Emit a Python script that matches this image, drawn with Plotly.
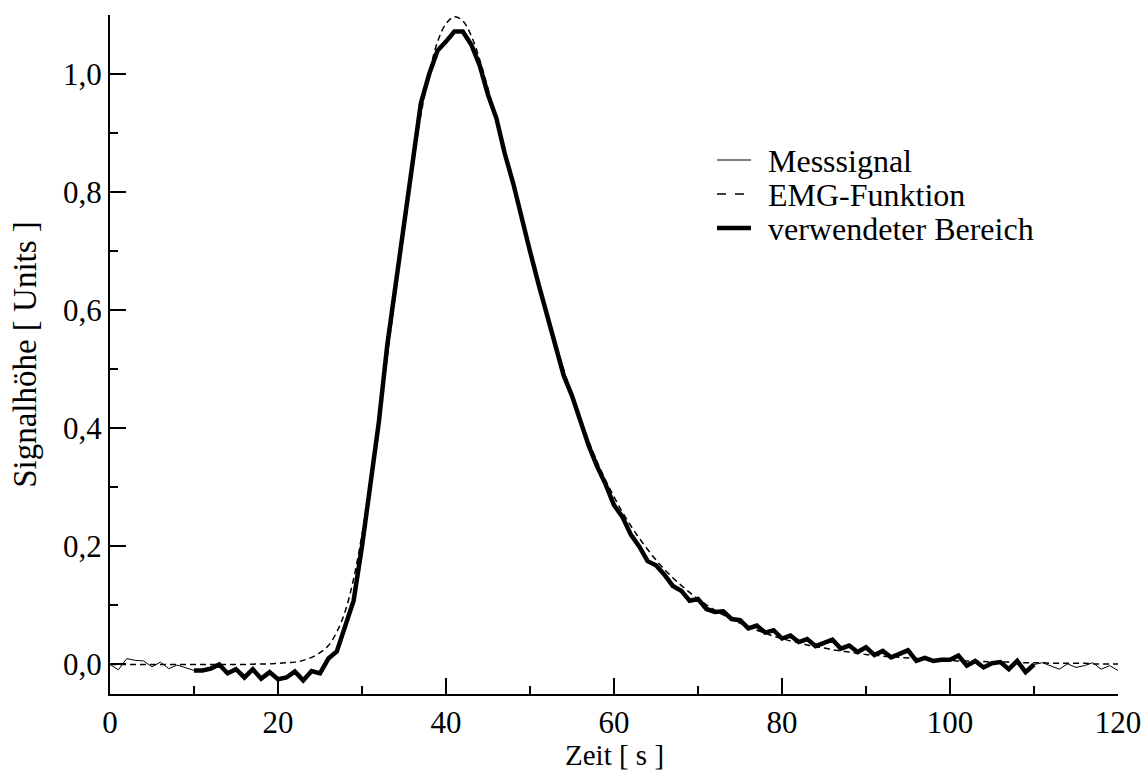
import plotly.graph_objects as go

# ---- data ----
zeit = list(range(0, 121))  # Zeit [s], 1 s sampling

messsignal = [
    0.000, -0.009, 0.010, 0.007, 0.006, -0.004, 0.004, -0.007, -0.001, -0.005,   # 0-9
    -0.010, -0.010, -0.007, 0.000, -0.015, -0.008, -0.022, -0.008, -0.024, -0.013,  # 10-19
    -0.025, -0.022, -0.012, -0.027, -0.011, -0.015, 0.010, 0.022, 0.065, 0.108,   # 20-29
    0.200, 0.300, 0.410, 0.540, 0.645, 0.750, 0.855, 0.950, 1.000, 1.040,         # 30-39
    1.055, 1.072, 1.072, 1.050, 1.015, 0.965, 0.925, 0.865, 0.815, 0.755,         # 40-49
    0.700, 0.645, 0.595, 0.540, 0.490, 0.455, 0.410, 0.370, 0.335, 0.305,         # 50-59
    0.270, 0.250, 0.220, 0.200, 0.175, 0.168, 0.152, 0.133, 0.125, 0.108,         # 60-69
    0.111, 0.094, 0.089, 0.090, 0.077, 0.075, 0.061, 0.066, 0.054, 0.058,         # 70-79
    0.044, 0.049, 0.038, 0.043, 0.031, 0.037, 0.042, 0.027, 0.032, 0.021,         # 80-89
    0.029, 0.016, 0.023, 0.012, 0.019, 0.024, 0.006, 0.011, 0.006, 0.008,         # 90-99
    0.008, 0.015, -0.002, 0.006, -0.005, 0.002, 0.004, -0.008, 0.006, -0.013,     # 100-109
    0.000, 0.003, -0.003, -0.008, 0.001, -0.005, -0.002, 0.003, -0.008, -0.002,   # 110-119
    -0.010,                                                                       # 120
]

emg_funktion = [
    0.000, 0.000, 0.000, 0.000, 0.000, 0.000, 0.000, 0.000, 0.000, 0.000,         # 0-9
    0.000, 0.000, 0.000, 0.000, 0.000, 0.000, 0.000, 0.0005, 0.001, 0.001,        # 10-19
    0.002, 0.003, 0.004, 0.007, 0.012, 0.020, 0.032, 0.055, 0.090, 0.145,         # 20-29
    0.220, 0.310, 0.410, 0.520, 0.630, 0.740, 0.840, 0.930, 1.000, 1.055,         # 30-39
    1.085, 1.097, 1.090, 1.065, 1.025, 0.975, 0.920, 0.865, 0.810, 0.755,         # 40-49
    0.700, 0.645, 0.595, 0.545, 0.500, 0.455, 0.415, 0.378, 0.343, 0.312,         # 50-59
    0.284, 0.258, 0.235, 0.214, 0.195, 0.177, 0.161, 0.147, 0.134, 0.122,         # 60-69
    0.111, 0.101, 0.092, 0.084, 0.077, 0.070, 0.064, 0.058, 0.053, 0.048,         # 70-79
    0.044, 0.040, 0.037, 0.033, 0.030, 0.028, 0.025, 0.023, 0.021, 0.019,         # 80-89
    0.017, 0.016, 0.014, 0.013, 0.012, 0.011, 0.010, 0.009, 0.008, 0.007,         # 90-99
    0.007, 0.006, 0.006, 0.005, 0.005, 0.004, 0.004, 0.004, 0.003, 0.003,         # 100-109
    0.003, 0.003, 0.002, 0.002, 0.002, 0.002, 0.002, 0.001, 0.001, 0.001,         # 110-119
    0.001,                                                                        # 120
]

bereich_start, bereich_ende = 10, 110  # verwendeter Bereich [s]

legend_labels = ["Messsignal", "EMG-Funktion", "verwendeter Bereich"]
x_tickvals = [0, 20, 40, 60, 80, 100, 120]
y_tickvals = [0.0, 0.2, 0.4, 0.6, 0.8, 1.0]
x_title = "Zeit [ s ]"
y_title = "Signalhöhe [ Units ]"

# ---- figure ----
i0 = zeit.index(bereich_start)
i1 = zeit.index(bereich_ende)
bereich_t = zeit[i0:i1 + 1]
bereich_y = messsignal[i0:i1 + 1]

FONT = "Liberation Serif"

fig = go.Figure()
fig.add_trace(go.Scatter(x=zeit, y=messsignal, mode="lines",
                         line=dict(color="black", width=1), name=legend_labels[0],
                         showlegend=False))
fig.add_trace(go.Scatter(x=bereich_t, y=bereich_y, mode="lines",
                         line=dict(color="black", width=4.5), name=legend_labels[2],
                         showlegend=False))
fig.add_trace(go.Scatter(x=zeit, y=emg_funktion, mode="lines",
                         line=dict(color="black", width=1.5, dash="6px,4px", shape="spline"),
                         name=legend_labels[1], showlegend=False))

# manual legend (paper coordinates)
W_PLOT, H_PLOT = 1008.0, 679.0
L, T = 110.0, 15.0
def px2paper(px, py):
    return (px - L) / W_PLOT, (T + H_PLOT - py) / H_PLOT

rows_y = [160, 194, 228]
styles = [dict(width=1), dict(width=1.5, dash="dash"), dict(width=4.5)]
for lab, ry, st in zip(legend_labels, rows_y, styles):
    x0, y0 = px2paper(717, ry)
    x1, _ = px2paper(751, ry)
    fig.add_shape(type="line", xref="paper", yref="paper", x0=x0, x1=x1, y0=y0, y1=y0,
                  line=dict(color="black", **st))
    tx, ty = px2paper(766, ry + 1)
    fig.add_annotation(xref="paper", yref="paper", x=tx, y=ty, text=lab,
                       showarrow=False, xanchor="left", yanchor="middle",
                       font=dict(family=FONT, size=32, color="black"))

# x-axis title as annotation, placed below the tick labels
_, xt_y = px2paper(614, 738)
fig.add_annotation(xref="paper", yref="paper", x=0.5, y=xt_y, text=x_title,
                   showarrow=False, xanchor="center", yanchor="top", borderpad=0,
                   font=dict(family=FONT, size=29, color="black"))

axis_common = dict(showline=True, linecolor="black", linewidth=2, mirror=False,
                   ticks="inside", tickcolor="black", tickwidth=1.5, ticklen=16,
                   showgrid=False, zeroline=False,
                   tickfont=dict(family=FONT, size=31, color="black"))

fig.update_layout(
    width=1146, height=772,
    margin=dict(l=110, r=28, t=15, b=78, autoexpand=False),
    paper_bgcolor="white", plot_bgcolor="white",
    separators=",.",
    showlegend=False,
    xaxis=dict(range=[0, 120], tickvals=x_tickvals, automargin=False,
               minor=dict(dtick=10, ticks="inside", ticklen=8, tickcolor="black", tickwidth=1.5),
               **axis_common),
    yaxis=dict(range=[-0.05, 1.1], tickvals=y_tickvals, tickformat=".1f", automargin=False,
               minor=dict(dtick=0.1, tick0=0, ticks="inside", ticklen=8, tickcolor="black", tickwidth=1.5),
               title=dict(text=y_title, font=dict(family=FONT, size=33, color="black"), standoff=16),
               **axis_common),
)

fig.write_html("out.html")
